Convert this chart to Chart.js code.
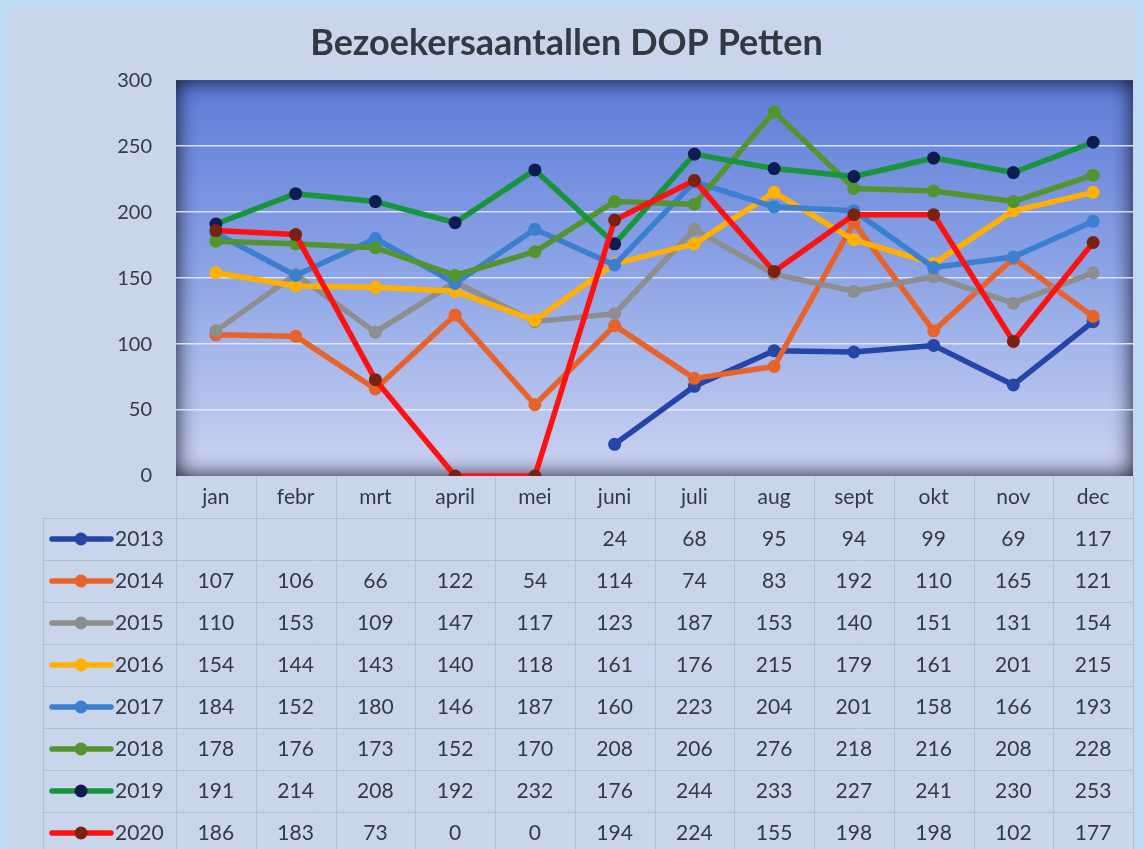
<!DOCTYPE html>
<html>
<head>
<meta charset="utf-8">
<script src="https://cdn.jsdelivr.net/npm/chart.js@4"></script>
<style>
  html, body { margin: 0; padding: 0; background: #bddcf2; }
  #wrap { width: 1144px; height: 849px; position: relative; }
</style>
</head>
<body>
<div id="wrap"><canvas id="chart" width="1144" height="849"></canvas></div>
<script>
var months = ['jan', 'febr', 'mrt', 'april', 'mei', 'juni', 'juli', 'aug', 'sept', 'okt', 'nov', 'dec'];
var years = ['2013', '2014', '2015', '2016', '2017', '2018', '2019', '2020'];

var v2013 = [null, null, null, null, null, 24, 68, 95, 94, 99, 69, 117];
var v2014 = [107, 106, 66, 122, 54, 114, 74, 83, 192, 110, 165, 121];
var v2015 = [110, 153, 109, 147, 117, 123, 187, 153, 140, 151, 131, 154];
var v2016 = [154, 144, 143, 140, 118, 161, 176, 215, 179, 161, 201, 215];
var v2017 = [184, 152, 180, 146, 187, 160, 223, 204, 201, 158, 166, 193];
var v2018 = [178, 176, 173, 152, 170, 208, 206, 276, 218, 216, 208, 228];
var v2019 = [191, 214, 208, 192, 232, 176, 244, 233, 227, 241, 230, 253];
var v2020 = [186, 183, 73, 0, 0, 194, 224, 155, 198, 198, 102, 177];

var yTicks = [0, 50, 100, 150, 200, 250, 300];

var series = [v2013, v2014, v2015, v2016, v2017, v2018, v2019, v2020];
var lineColors = ['#2545a8', '#e8632a', '#8e8e8e', '#ffb000', '#3b7fd0', '#52952f', '#17953d', '#ff1111'];
var dotColors = ['#2545a8', '#e8632a', '#8e8e8e', '#ffb000', '#3b7fd0', '#52952f', '#0e1c52', '#7a2210'];

var font = 'Lato, "Open Sans", sans-serif';
var textColor = '#343945';

var panelPlugin = {
    id: 'panel',
    beforeDraw: function(chart) {
        var ctx = chart.ctx;
        var a = chart.chartArea;
        ctx.save();
        ctx.fillStyle = '#c8d5eb';
        ctx.fillRect(8, 9, 1128, 840);

        var g = ctx.createLinearGradient(0, a.top, 0, a.bottom);
        g.addColorStop(0, '#5e7cd8');
        g.addColorStop(0.5, '#8ea5e6');
        g.addColorStop(1, '#ccd4f2');
        ctx.fillStyle = g;
        ctx.fillRect(a.left, a.top, a.right - a.left, a.bottom - a.top);

        // inner shadow of the plot area
        ctx.beginPath();
        ctx.rect(a.left, a.top, a.right - a.left, a.bottom - a.top);
        ctx.clip();
        ctx.beginPath();
        ctx.rect(a.left - 200, a.top - 200, a.right - a.left + 400, a.bottom - a.top + 400);
        ctx.rect(a.left, a.top, a.right - a.left, a.bottom - a.top);
        ctx.shadowColor = 'rgba(8, 10, 30, 0.95)';
        ctx.shadowBlur = 22;
        ctx.fillStyle = '#10121e';
        ctx.fill('evenodd');
        ctx.restore();
    }
};

var tablePlugin = {
    id: 'dataTable',
    afterDraw: function(chart) {
        var ctx = chart.ctx;
        var a = chart.chartArea;
        var x = chart.scales.x;
        var colW = (a.right - a.left) / months.length;
        var top = a.bottom;
        var rowH = 42;
        var labelLeft = 43;
        var bottom = 849;

        ctx.save();
        ctx.strokeStyle = '#b3bfd3';
        ctx.lineWidth = 1;
        ctx.beginPath();
        // vertical lines
        for (var i = 0; i <= months.length; i++) {
            var vx = Math.round(a.left + i * colW) + 0.5;
            ctx.moveTo(vx, top);
            ctx.lineTo(vx, bottom);
        }
        ctx.moveTo(labelLeft + 0.5, top + rowH);
        ctx.lineTo(labelLeft + 0.5, bottom);
        // horizontal lines
        for (var r = 1; r <= years.length; r++) {
            var hy = Math.round(top + r * rowH) + 0.5;
            ctx.moveTo(labelLeft, hy);
            ctx.lineTo(a.right, hy);
        }
        ctx.stroke();

        ctx.fillStyle = textColor;
        ctx.font = '21px ' + font;
        ctx.textAlign = 'center';
        ctx.textBaseline = 'middle';
        months.forEach(function(m, i) {
            ctx.fillText(m, x.getPixelForValue(i), top + rowH / 2);
        });

        years.forEach(function(yr, r) {
            var cy = top + (r + 1.5) * rowH;
            // legend key
            ctx.strokeStyle = lineColors[r];
            ctx.lineWidth = 5.5;
            ctx.lineCap = 'round';
            ctx.beginPath();
            ctx.moveTo(52, cy);
            ctx.lineTo(111, cy);
            ctx.stroke();
            ctx.fillStyle = dotColors[r];
            ctx.beginPath();
            ctx.arc(81, cy, 6.5, 0, Math.PI * 2);
            ctx.fill();

            ctx.fillStyle = textColor;
            ctx.textAlign = 'left';
            ctx.fillText(yr, 115, cy);
            ctx.textAlign = 'center';
            series[r].forEach(function(v, i) {
                if (v !== null) ctx.fillText(String(v), x.getPixelForValue(i), cy);
            });
        });
        ctx.restore();
    }
};

var datasets = series.map(function(vals, i) {
    return {
        label: years[i],
        data: vals,
        borderColor: lineColors[i],
        backgroundColor: dotColors[i],
        pointBackgroundColor: dotColors[i],
        pointBorderWidth: 0,
        pointRadius: 6.5,
        borderWidth: 5.5,
        borderJoinStyle: 'round',
        spanGaps: false,
        order: years.length - 1 - i
    };
});

var ctx = document.getElementById('chart');
new Chart(ctx, {
    type: 'line',
    data: { labels: months, datasets: datasets },
    options: {
        responsive: false,
        animation: false,
        layout: { padding: { left: 0, right: 11, top: 8, bottom: 373 } },
        plugins: {
            legend: { display: false },
            tooltip: { enabled: false },
            title: {
                display: true,
                text: 'Bezoekersaantallen DOP Petten',
                color: '#333944',
                font: { family: font, size: 36, weight: 'bold' },
                padding: { top: 14, bottom: 15 }
            }
        },
        scales: {
            x: { display: false, offset: true },
            y: {
                min: 0,
                max: 300,
                afterFit: function(s) { s.width = 176; },
                afterBuildTicks: function(s) {
                    s.ticks = yTicks.map(function(v) { return { value: v }; });
                },
                border: { display: false },
                grid: {
                    drawTicks: false,
                    color: function(c) {
                        var v = c.tick.value;
                        return (v === 0 || v === 300) ? 'rgba(0,0,0,0)' : 'rgba(235,240,250,0.85)';
                    },
                    lineWidth: 1.5
                },
                ticks: {
                    color: textColor,
                    padding: 24,
                    font: { family: font, size: 20 }
                }
            }
        }
    },
    plugins: [panelPlugin, tablePlugin]
});
</script>
</body>
</html>
